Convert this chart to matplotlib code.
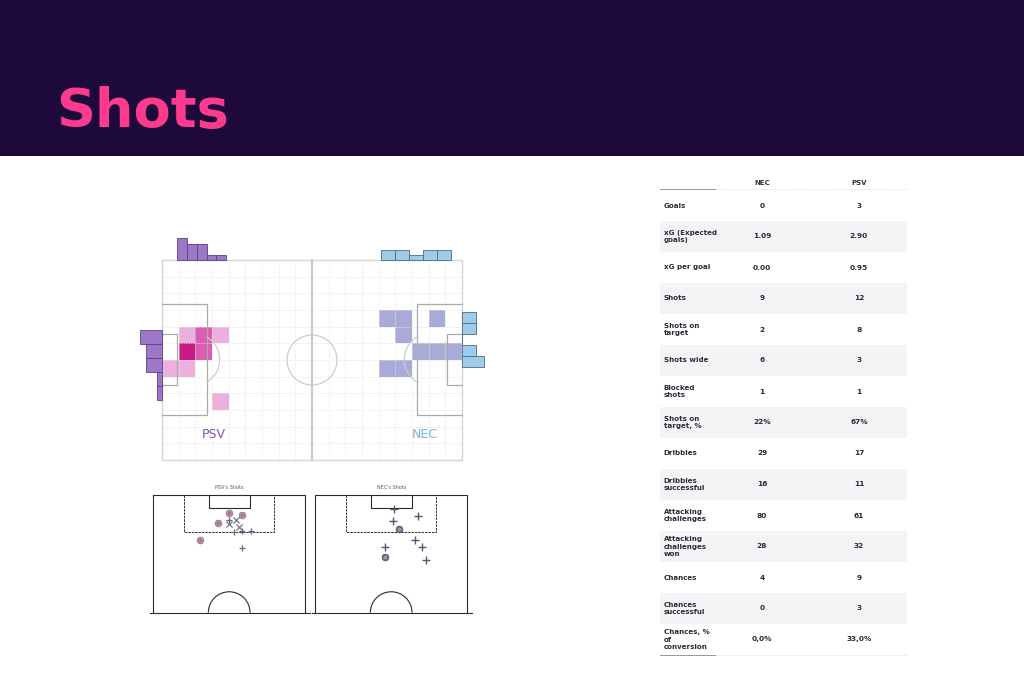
import numpy as np
import matplotlib
matplotlib.use("Agg")
import matplotlib.pyplot as plt
from matplotlib.colors import ListedColormap, BoundaryNorm
from matplotlib.patches import Arc, Circle

W, H = 1024, 683

# heatmap cells on a 12 x 18 grid (row counted from top, column from left)
psv_rows = [4, 4, 4, 5, 5, 6, 6, 8]
psv_cols = [1, 2, 3, 1, 2, 0, 1, 3]
psv_counts = [1, 2, 1, 3, 2, 1, 1, 1]
nec_rows = [3, 3, 3, 4, 5, 5, 5, 6, 6]
nec_cols = [13, 14, 16, 14, 15, 16, 17, 13, 14]
nec_counts = [1, 1, 1, 1, 1, 1, 1, 1, 1]

# shot distribution histograms next to the pitch
psv_top_counts = [4, 3, 3, 1, 1]
psv_side_counts = [4, 3, 3, 1, 1]
nec_top_counts = [2, 2, 1, 2, 2]
nec_side_counts = [2, 2, 0, 2, 3]

# shot maps: x = metres from centre line of pitch, y = metres from goal line
psv_dot_x = [-0.1, 5.8, -4.9, -13.0]
psv_dot_y = [8.2, 8.9, 12.4, 20.1]
psv_cross_x = [3.0, 0.0, 4.5]
psv_cross_y = [11.2, 13.1, 14.2]
psv_plus_x = [0.0, 2.1, 5.6, 9.6, 5.8]
psv_plus_y = [11.2, 16.7, 16.1, 16.1, 23.8]
nec_dot_x = [3.3, -2.6]
nec_dot_y = [15.3, 27.5]
nec_plus_x = [1.1, 12.0, 0.7, 10.5, 13.8, -2.6, 15.6]
nec_plus_y = [6.4, 9.2, 11.6, 20.1, 23.4, 23.1, 29.0]

# stats table
stat_labels = ["Goals", "xG (Expected\ngoals)", "xG per goal", "Shots",
               "Shots on\ntarget", "Shots wide", "Blocked\nshots",
               "Shots on\ntarget, %", "Dribbles", "Dribbles\nsuccessful",
               "Attacking\nchallenges", "Attacking\nchallenges\nwon",
               "Chances", "Chances\nsuccessful", "Chances, %\nof\nconversion"]
nec_values = ["0", "1.09", "0.00", "9", "2", "6", "1", "22%", "29", "16",
              "80", "28", "4", "0", "0,0%"]
psv_values = ["3", "2.90", "0.95", "12", "8", "3", "1", "67%", "17", "11",
              "61", "32", "9", "3", "33,0%"]

fig = plt.figure(figsize=(W / 100, H / 100), dpi=100)
fig.patch.set_facecolor("white")


def px_axes(x0, y0, x1, y1):
    ax = fig.add_axes([x0 / W, 1 - y1 / H, (x1 - x0) / W, (y1 - y0) / H])
    ax.axis("off")
    return ax


# ---- header band
hd = px_axes(0, 0, W, 156)
hd.axis("on")
hd.set_facecolor("#1d0a3b")
for s in hd.spines.values():
    s.set_visible(False)
hd.set_xticks([])
hd.set_yticks([])
fig.text(56 / W, 1 - 127 / H, "Shots", color="#fc3b8f", fontsize=39,
         fontweight="bold", va="baseline", ha="left", family="DejaVu Sans")

# ---- full pitch with heatmap (units = grid cells, 16.67 px each)
u = 300 / 18
px0, py0 = 162, 260
pa = px_axes(125, 225, 500, 470)
pa.set_xlim((125 - px0) / u, (500 - px0) / u)
pa.set_ylim((470 - py0) / u, (225 - py0) / u)


def cell_grid(rows, cols, counts):
    g = np.full((12, 18), np.nan)
    for r, c, n in zip(rows, cols, counts):
        g[r, c] = n
    return np.ma.masked_invalid(g)


psv_cmap = ListedColormap(["#edb0dc", "#dc5cb1", "#c91b85"])
nec_cmap = ListedColormap(["#aaaad8"])
pa.pcolormesh(np.arange(19), np.arange(13), cell_grid(psv_rows, psv_cols, psv_counts),
              cmap=psv_cmap, norm=BoundaryNorm([0.5, 1.5, 2.5, 3.5], 3), zorder=1)
pa.pcolormesh(np.arange(19), np.arange(13), cell_grid(nec_rows, nec_cols, nec_counts),
              cmap=nec_cmap, norm=BoundaryNorm([0.5, 1.5], 1), zorder=1)

for i in range(19):
    pa.plot([i, i], [0, 12], color="#e6e6e6", lw=0.6, ls=(0, (1, 1)), zorder=2)
for j in range(13):
    pa.plot([0, 18], [j, j], color="#e6e6e6", lw=0.6, ls=(0, (1, 1)), zorder=2)

line = dict(color="#d4d4d4", lw=1.0, zorder=3)
pa.plot([0, 18, 18, 0, 0], [0, 0, 12, 12, 0], **line)
pa.plot([9, 9], [0, 12], color="#cccccc", lw=1.6, zorder=3)
pa.add_patch(Circle((9, 6), 1.5, fill=False, ec="#cccccc", lw=0.9, zorder=3))
box = dict(color="#aaaaaa", lw=0.9, zorder=3)
pa.plot([0, 2.7, 2.7, 0], [2.64, 2.64, 9.3, 9.3], **box)
pa.plot([0, 0.88, 0.88, 0], [4.46, 4.46, 7.5, 7.5], **box)
pa.plot([18, 15.3, 15.3, 18], [2.64, 2.64, 9.3, 9.3], **box)
pa.plot([18, 17.12, 17.12, 18], [4.46, 4.46, 7.5, 7.5], **box)
pa.add_patch(Arc((1.89, 5.97), 3.14, 3.14, theta1=-59, theta2=59, ec="#cccccc", lw=0.9, zorder=3))
pa.add_patch(Arc((16.11, 5.97), 3.14, 3.14, theta1=121, theta2=239, ec="#cccccc", lw=0.9, zorder=3))

pa.text(3.12, 10.45, "PSV", color="#7d55b0", fontsize=9, ha="center", va="center")
pa.text(15.75, 10.45, "NEC", color="#78b4e0", fontsize=9, ha="center", va="center")

# histograms around the pitch
psv_hist = dict(color="#9b78c6", edgecolor="#5b3d8c", lw=0.6, zorder=4)
nec_hist = dict(color="#9ecbe8", edgecolor="#4f6b82", lw=0.6, zorder=4)
w = 0.585
pa.bar(0.92 + w * (np.arange(5) + 0.5), -np.array(psv_top_counts) * 0.325, width=w, **psv_hist)
h = 0.84
pa.barh(4.2 + h * (np.arange(5) + 0.5), -np.array(psv_side_counts) * 0.325, height=h, left=0, **psv_hist)
w = 0.844
pa.bar(13.12 + w * (np.arange(5) + 0.5), -np.array(nec_top_counts) * 0.31, width=w, **nec_hist)
h = 0.66
pa.barh(3.1 + h * (np.arange(5) + 0.5), np.array(nec_side_counts) * 0.433, height=h, left=18, **nec_hist)

# ---- half-pitch shot maps (metres, 2.24 px per metre)
s = 2.24


def shot_map(x0, cx, title):
    ax = px_axes(x0, 480, x0 + 162, 618)
    ax.set_xlim((x0 - cx) / s, (x0 + 162 - cx) / s)
    ax.set_ylim((618 - 495) / s, (480 - 495) / s)
    k = dict(color="#2a2a2a", lw=0.8)
    ax.plot([-34, -34, 34, 34], [52.5, 0, 0, 52.5], **k)
    ax.plot([-36, 36], [52.5, 52.5], **k)
    ax.plot([-20.16, -20.16, 20.16, 20.16], [0, 16.5, 16.5, 0], color="#2a2a2a", lw=0.7, ls=(0, (2.5, 1)))
    ax.plot([-9.16, -9.16, 9.16, 9.16], [0, 5.8, 5.8, 0], **k)
    ax.add_patch(Arc((0, 52.5), 18.6, 18.6, theta1=180, theta2=360, ec="#2a2a2a", lw=0.8))
    ax.text(0, -2.2, title, fontsize=3.5, ha="center", va="bottom", color="#555555")
    return ax


la = shot_map(150, 229.2, "PSV's Shots")
la.scatter(psv_dot_x, psv_dot_y, s=24, color="#a0a0a0", edgecolor="#7a7a7a", lw=0.5, zorder=5)
la.scatter(psv_dot_x, psv_dot_y, s=2, color="#e0559e", zorder=6)
la.scatter(psv_cross_x, psv_cross_y, s=20, marker="x", color="#777788", lw=0.9, zorder=5)
la.scatter(psv_plus_x, psv_plus_y, s=20, marker="+", color="#666680", lw=0.9, zorder=5)

ra = shot_map(312, 391.2, "NEC's Shots")
ra.scatter(nec_dot_x, nec_dot_y, s=24, color="#6a6a78", edgecolor="#555560", lw=0.5, zorder=5)
ra.scatter(nec_dot_x, nec_dot_y, s=3, color="#9a9aa8", zorder=6)
ra.scatter(nec_plus_x, nec_plus_y, s=26, marker="+", color="#555577", lw=1.0, zorder=5)

# ---- stats table (x in px from 660, y in rows of 31 px from y=190)
ta = px_axes(655, 170, 912, 662)
ta.set_xlim(-5, 252)
ta.set_ylim((662 - 190) / 31, (170 - 190) / 31)
n = len(stat_labels)
shade = np.arange(1, n, 2)
ta.barh(shade + 0.5, 247, height=1, left=0, color="#f4f4f6", zorder=0)
for yy in (-0.03, n):
    ta.plot([0, 247], [yy, yy], color="#dcdcdc", lw=0.6, ls=(0, (1, 1)))
    ta.plot([0, 55], [yy, yy], color="#8a8a8a", lw=0.6)
ta.text(102, -0.23, "NEC", fontsize=5, fontweight="bold", ha="center", va="center", color="#333340")
ta.text(199, -0.23, "PSV", fontsize=5, fontweight="bold", ha="center", va="center", color="#333340")
for i in range(n):
    ta.text(3.5, i + 0.5, stat_labels[i], fontsize=5.1, fontweight="bold", ha="left",
            va="center", color="#2a2a3a", linespacing=1.3)
    ta.text(102, i + 0.5, nec_values[i], fontsize=5.3, fontweight="bold", ha="center",
            va="center", color="#2a2a3a")
    ta.text(199, i + 0.5, psv_values[i], fontsize=5.3, fontweight="bold", ha="center",
            va="center", color="#2a2a3a")

fig.savefig("out.png", dpi=100)
plt.close("all")
